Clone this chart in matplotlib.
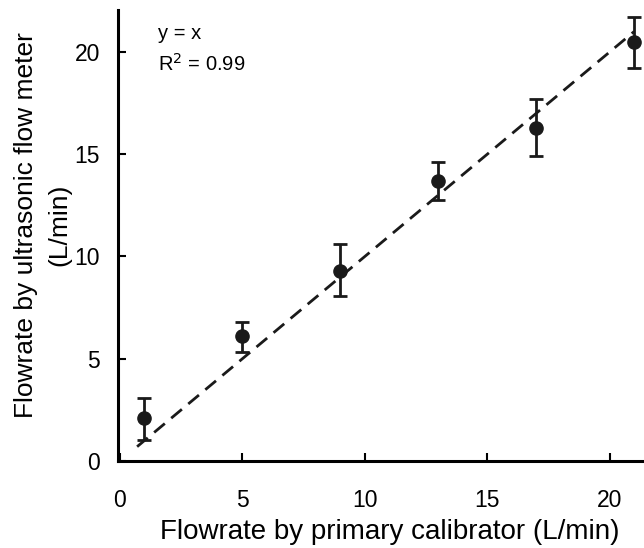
import matplotlib
matplotlib.use("Agg")
import matplotlib.pyplot as plt

plt.rcParams['font.family'] = ['Liberation Sans', 'DejaVu Sans']

# data
calibrator = [1, 5, 9, 13, 17, 21]
ultrasonic = [2.1, 6.1, 9.3, 13.7, 16.3, 20.5]
err_low = [1.05, 0.75, 1.25, 0.95, 1.4, 1.3]
err_high = [1.0, 0.7, 1.3, 0.9, 1.4, 1.2]
fit_x = [0.7, 21.0]
fit_y = [0.7, 21.0]

fig = plt.figure(figsize=(6.44, 5.48), dpi=100)
ax = fig.add_axes([118 / 644, 1 - 461 / 548, 1 - 118 / 644, 451 / 548])

ax.plot(fit_x, fit_y, color='#1a1a1a', lw=2, ls=(0, (5, 3)), zorder=2)
ax.errorbar(calibrator, ultrasonic, yerr=[err_low, err_high], fmt='o',
            color='#1a1a1a', ms=9.5, elinewidth=2, capsize=5, capthick=2, zorder=3)

ax.set_xlim(-0.08, 21.4)
ax.set_ylim(0, 22.05)
ax.set_xticks([0, 5, 10, 15, 20])
ax.set_yticks([0, 5, 10, 15, 20])
ax.tick_params(direction='in', length=6, width=1.5, labelsize=16.5)
ax.tick_params(axis='x', pad=20)
ax.tick_params(axis='y', pad=13)
for side in ['top', 'right']:
    ax.spines[side].set_visible(False)
for side in ['left', 'bottom']:
    ax.spines[side].set_linewidth(2.2)

ax.set_xlabel("Flowrate by primary calibrator (L/min)", fontsize=20, va='center')
ax.xaxis.set_label_coords(0.517, -0.157)
ax.set_ylabel("Flowrate by ultrasonic flow meter\n(L/min)", fontsize=19,
              va='center', linespacing=1.5)
ax.yaxis.set_label_coords(-0.143, 0.523)

ax.text(1.55, 20.9, "y = x", fontsize=14.5, va='center')
ax.text(1.55, 19.4, "R$^2$ = 0.99", fontsize=14.5, va='center')

fig.savefig("out.png", dpi=100)
